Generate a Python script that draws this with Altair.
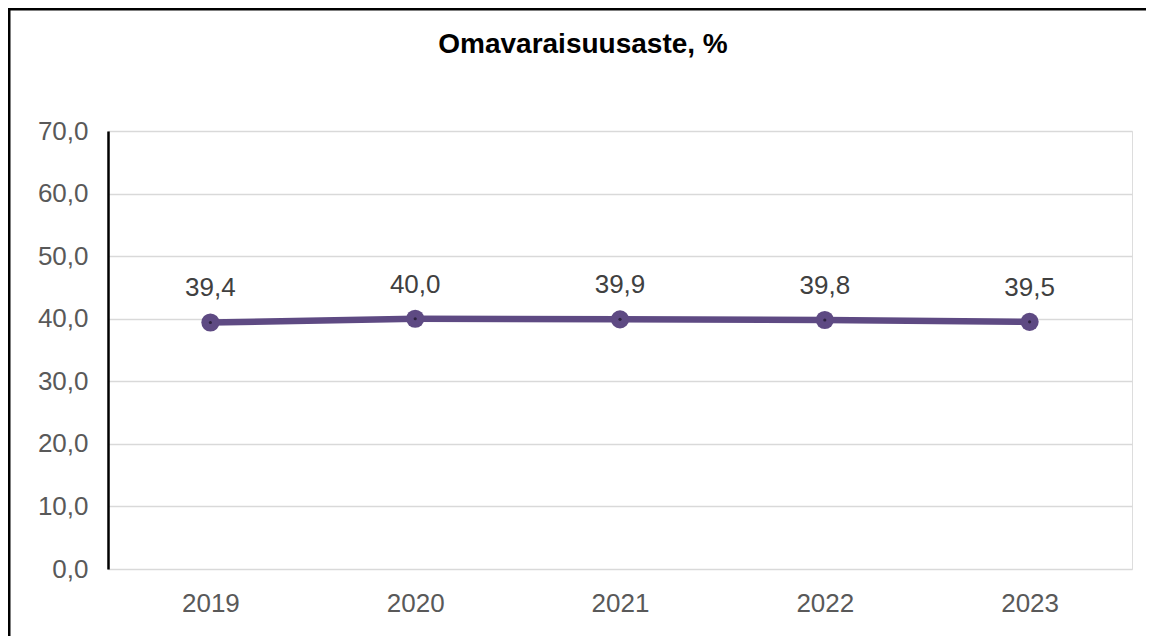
import altair as alt
import pandas as pd

years = ["2019", "2020", "2021", "2022", "2023"]
values = [39.4, 40.0, 39.9, 39.8, 39.5]
y_ticks = [0, 10, 20, 30, 40, 50, 60, 70]
title_text = "Omavaraisuusaste, %"

df = pd.DataFrame({"year": years, "value": values})

FONT = "Liberation Sans"
LINE_COLOR = "#5E4A83"

base = alt.Chart(df).encode(
    x=alt.X("year:O", sort=years, title=None,
            axis=alt.Axis(labelAngle=0, domain=False, ticks=False, labelPadding=21,
                          labelFontSize=26, labelColor="#595959", labelFont=FONT, grid=False)),
    y=alt.Y("value:Q", title=None,
            scale=alt.Scale(domain=[0, 70], nice=False),
            axis=alt.Axis(values=y_ticks, ticks=False, domain=True, domainColor="#000000",
                          domainWidth=2.5, grid=True, gridColor="#D9D9D9", gridWidth=1.5,
                          labelPadding=20, labelFontSize=26, labelColor="#595959", labelFont=FONT,
                          labelExpr="replace(format(datum.value, '.1f'), '.', ',')")),
)

line = base.mark_line(color=LINE_COLOR, strokeWidth=6.5)
points = base.mark_point(filled=True, color=LINE_COLOR, size=330, opacity=1, shape="circle")
dots = base.mark_point(filled=True, color="#2E2340", size=10, opacity=1, shape="circle")
labels = base.transform_calculate(
    lbl="replace(format(datum.value, '.1f'), '.', ',')"
).mark_text(dy=-21, baseline="bottom", fontSize=26, color="#404040", font=FONT).encode(
    text="lbl:N"
)

single = alt.Data(values=[{"t": title_text}])
top_bar = alt.Chart(single).mark_rect(color="#000000").encode(
    x=alt.value(-100), x2=alt.value(1038), y=alt.value(-123), y2=alt.value(-120.5)
)
left_bar = alt.Chart(single).mark_rect(color="#000000").encode(
    x=alt.value(-100), x2=alt.value(-97.5), y=alt.value(-123), y2=alt.value(505)
)
title = alt.Chart(single).mark_text(
    font=FONT, fontSize=28, fontWeight="bold", color="#000000",
    align="center", baseline="alphabetic"
).encode(x=alt.value(475), y=alt.value(-78), text="t:N")

chart = alt.layer(top_bar, left_bar, title, line, points, dots, labels).properties(
    width=1024, height=438,
    padding={"left": 100, "top": 123, "right": 14, "bottom": 67},
    autosize=alt.AutoSizeParams(type="none"),
).configure_view(stroke=None).configure(background="white")

chart.save("out.html", embed_options={"renderer": "svg", "actions": False})
